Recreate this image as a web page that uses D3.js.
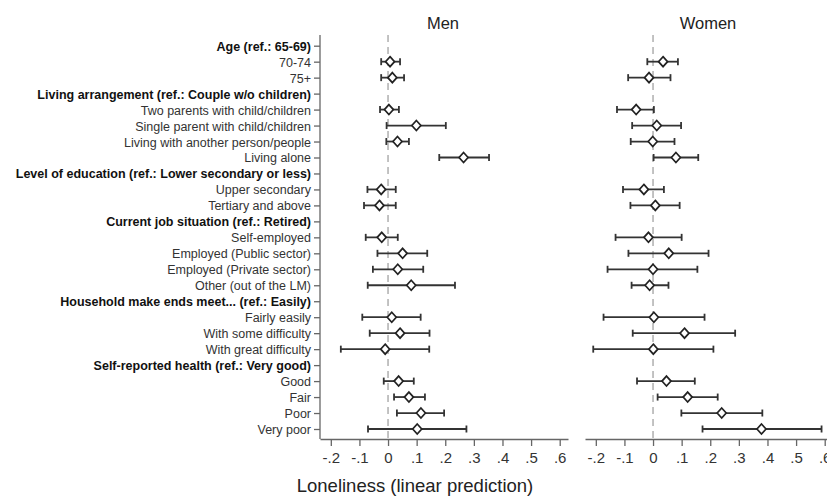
<!DOCTYPE html>
<html>
<head>
<meta charset="utf-8">
<script src="https://cdn.jsdelivr.net/npm/d3@7"></script>
<style>
  html, body { margin: 0; padding: 0; background: #fff; }
  svg { display: block; }
  text { font-family: "Liberation Sans", Arial, Helvetica, sans-serif; }
</style>
</head>
<body>
<svg id="chart" width="827" height="497"></svg>
<script>
// Row labels (headers mark the reference category of each block)
const labels = [
  "Age (ref.: 65-69)", "70-74", "75+",
  "Living arrangement (ref.: Couple w/o children)",
  "Two parents with child/children", "Single parent with child/children",
  "Living with another person/people", "Living alone",
  "Level of education (ref.: Lower secondary or less)",
  "Upper secondary", "Tertiary and above",
  "Current job situation (ref.: Retired)",
  "Self-employed", "Employed (Public sector)", "Employed (Private sector)", "Other (out of the LM)",
  "Household make ends meet... (ref.: Easily)",
  "Fairly easily", "With some difficulty", "With great difficulty",
  "Self-reported health (ref.: Very good)",
  "Good", "Fair", "Poor", "Very poor"
];
const isHeader = [1,0,0, 1,0,0,0,0, 1,0,0, 1,0,0,0,0, 1,0,0,0, 1,0,0,0,0];

// Men: point estimate and 95% CI (null for header rows)
const menEst = [null, 0.007, 0.015, null, 0.003, 0.099, 0.033, 0.264, null, -0.024, -0.030, null,
  -0.022, 0.051, 0.034, 0.081, null, 0.013, 0.042, -0.010, null, 0.037, 0.073, 0.115, 0.102];
const menLo  = [null, -0.024, -0.024, null, -0.028, -0.005, -0.006, 0.179, null, -0.072, -0.084, null,
  -0.078, -0.037, -0.053, -0.071, null, -0.090, -0.064, -0.165, null, -0.015, 0.021, 0.031, -0.070];
const menHi  = [null, 0.042, 0.056, null, 0.038, 0.202, 0.073, 0.353, null, 0.027, 0.027, null,
  0.034, 0.137, 0.123, 0.234, null, 0.114, 0.145, 0.144, null, 0.090, 0.129, 0.196, 0.274];

// Women: point estimate and 95% CI
const womenEst = [null, 0.035, -0.014, null, -0.059, 0.013, -0.001, 0.080, null, -0.032, 0.008, null,
  -0.016, 0.055, 0.000, -0.012, null, 0.003, 0.110, 0.001, null, 0.047, 0.121, 0.240, 0.379];
const womenLo  = [null, -0.020, -0.087, null, -0.126, -0.073, -0.078, 0.002, null, -0.105, -0.079, null,
  -0.131, -0.086, -0.159, -0.075, null, -0.173, -0.071, -0.209, null, -0.056, 0.016, 0.099, 0.173];
const womenHi  = [null, 0.087, 0.061, null, 0.003, 0.098, 0.075, 0.158, null, 0.038, 0.093, null,
  0.100, 0.194, 0.155, 0.054, null, 0.180, 0.287, 0.211, null, 0.146, 0.226, 0.382, 0.589];

const tickValues = [-0.2, -0.1, 0, 0.1, 0.2, 0.3, 0.4, 0.5, 0.6];
const tickLabels = ["-.2", "-.1", "0", ".1", ".2", ".3", ".4", ".5", ".6"];
const panelTitles = ["Men", "Women"];
const axisTitle = "Loneliness (linear prediction)";

const svg = d3.select("#chart");

const plotTop = 35, plotBottom = 439;
const y = d3.scalePoint().domain(d3.range(labels.length)).range([45.7, 429]);
const xDomain = [-0.2378, 0.629];

const panels = [
  { title: panelTitles[0], left: 320, est: menEst, lo: menLo, hi: menHi, yAxis: true },
  { title: panelTitles[1], left: 585, est: womenEst, lo: womenLo, hi: womenHi, yAxis: false }
];
const panelWidth = 248;

panels.forEach(p => {
  const x = d3.scaleLinear().domain(xDomain).range([p.left, p.left + panelWidth]);
  const g = svg.append("g");

  // panel title
  g.append("text")
    .attr("x", p.left + panelWidth / 2 - 1)
    .attr("y", 29)
    .attr("text-anchor", "middle")
    .attr("font-size", 16.5)
    .attr("fill", "#222")
    .text(p.title);

  // reference line at zero
  g.append("line")
    .attr("x1", x(0)).attr("x2", x(0))
    .attr("y1", plotTop).attr("y2", plotBottom)
    .attr("stroke", "#b4b4b4")
    .attr("stroke-width", 1.6)
    .attr("stroke-dasharray", "7,5");

  // x axis
  const xAxis = d3.axisBottom(x)
    .tickValues(tickValues)
    .tickFormat((d, i) => tickLabels[i])
    .tickSizeInner(7)
    .tickSizeOuter(0)
    .tickPadding(6);
  const ax = g.append("g").attr("transform", `translate(0,${plotBottom})`).call(xAxis);
  ax.select(".domain").attr("stroke", "#666").attr("stroke-width", 1.3);
  ax.selectAll(".tick line").attr("stroke", "#666").attr("stroke-width", 1.3);
  ax.selectAll(".tick text")
    .attr("font-size", 15)
    .attr("fill", "#333")
    .style("font-family", "'Liberation Sans', Arial, sans-serif");

  // y axis with category labels (men panel only)
  if (p.yAxis) {
    const yAxisGen = d3.axisLeft(y)
      .tickFormat(i => labels[i])
      .tickSizeInner(6)
      .tickSizeOuter(0)
      .tickPadding(3);
    const ay = g.append("g").attr("transform", `translate(${p.left},0)`).call(yAxisGen);
    ay.select(".domain")
      .attr("d", `M0,${plotTop}V${plotBottom}`)
      .attr("stroke", "#666").attr("stroke-width", 1.3);
    ay.selectAll(".tick line").attr("stroke", "#666").attr("stroke-width", 1.3);
    ay.selectAll(".tick text")
      .attr("font-size", 12.5)
      .attr("fill", d => isHeader[d] ? "#111" : "#333")
      .attr("font-weight", d => isHeader[d] ? "bold" : "normal")
      .attr("dy", "0.36em")
      .style("font-family", "'Liberation Sans', Arial, sans-serif");
  }

  const rows = d3.range(labels.length).filter(i => p.est[i] !== null);
  const cap = 3.5;

  // confidence intervals
  const ci = g.append("g").attr("stroke", "#333").attr("stroke-width", 1.8).attr("fill", "none");
  rows.forEach(i => {
    const yy = y(i);
    ci.append("line").attr("x1", x(p.lo[i])).attr("x2", x(p.hi[i])).attr("y1", yy).attr("y2", yy);
    ci.append("line").attr("x1", x(p.lo[i])).attr("x2", x(p.lo[i])).attr("y1", yy - cap).attr("y2", yy + cap);
    ci.append("line").attr("x1", x(p.hi[i])).attr("x2", x(p.hi[i])).attr("y1", yy - cap).attr("y2", yy + cap);
  });

  // point estimates as hollow diamonds
  g.append("g").selectAll("path")
    .data(rows)
    .join("path")
    .attr("transform", i => `translate(${x(p.est[i])},${y(i)})`)
    .attr("d", "M0,-5L4.5,0L0,5L-4.5,0Z")
    .attr("fill", "#fff")
    .attr("stroke", "#222")
    .attr("stroke-width", 1.7);
});

// common x-axis title
svg.append("text")
  .attr("x", 415)
  .attr("y", 492)
  .attr("text-anchor", "middle")
  .attr("font-size", 18.5)
  .attr("fill", "#222")
  .text(axisTitle);
</script>
</body>
</html>
